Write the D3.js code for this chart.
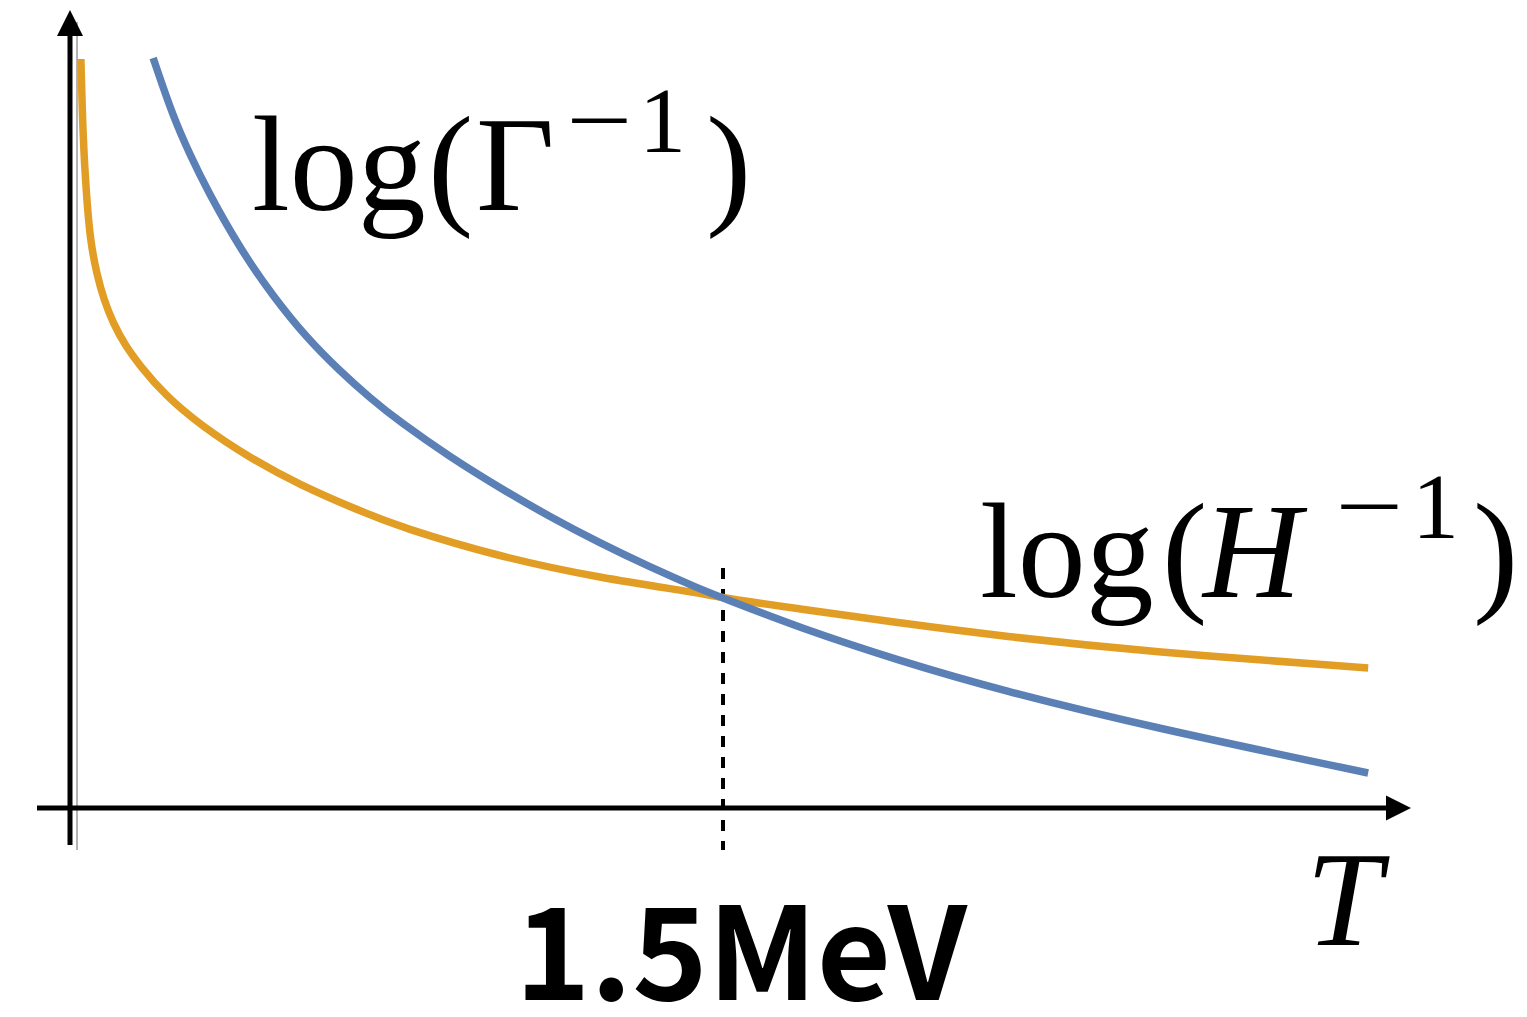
<!DOCTYPE html>
<html>
<head>
<meta charset="utf-8">
<script src="https://cdn.jsdelivr.net/npm/d3@7"></script>
<style>
  body { margin: 0; background: #fff; }
  svg { display: block; }
</style>
</head>
<body>
<svg width="1527" height="1017"></svg>
<script>
'use strict';

// temperature T in MeV
const hT = [0.025, 0.030, 0.037, 0.046, 0.062, 0.078, 0.099, 0.126, 0.161, 0.218, 0.299, 0.413, 0.528, 0.666, 0.758, 0.988, 1.217, 1.447, 1.5, 1.677, 1.907, 2.136, 2.481, 2.982];
// log(H^-1), arbitrary units
const hVal = [7.49, 6.68, 6.18, 5.68, 5.33, 5.08, 4.85, 4.63, 4.42, 4.13, 3.83, 3.50, 3.23, 2.97, 2.81, 2.51, 2.30, 2.15, 2.10, 1.99, 1.85, 1.72, 1.56, 1.40];

const gT = [0.191, 0.237, 0.276, 0.315, 0.391, 0.466, 0.544, 0.620, 0.689, 0.758, 0.873, 0.988, 1.103, 1.217, 1.332, 1.447, 1.5, 1.677, 1.907, 2.136, 2.481, 2.982];
// log(Gamma^-1)
const gVal = [7.50, 6.91, 6.53, 6.18, 5.59, 5.12, 4.70, 4.37, 4.10, 3.86, 3.51, 3.20, 2.91, 2.65, 2.41, 2.19, 2.10, 1.80, 1.47, 1.18, 0.81, 0.35];

const decouplingT = 1.5;
const decouplingLabel = "1.5MeV";

const svg = d3.select("svg");

const x = d3.scaleLinear().domain([0, 3]).range([70, 1376]);
const y = d3.scaleLinear().domain([0, 8]).range([808, 8]);

const orange = "#e29e24";
const blue = "#5b80b6";

// thin grey guide next to the y axis
svg.append("line")
    .attr("x1", x(0) + 7).attr("x2", x(0) + 7)
    .attr("y1", 22).attr("y2", y(-0.42))
    .attr("stroke", "#9a9a9a")
    .attr("stroke-width", 1.5);

// y axis
svg.append("line")
    .attr("x1", x(0)).attr("x2", x(0))
    .attr("y1", y(-0.37)).attr("y2", 34)
    .attr("stroke", "black")
    .attr("stroke-width", 5);
svg.append("path")
    .attr("d", `M${x(0)},10 L${x(0) - 13},36 L${x(0) + 13},36 Z`)
    .attr("fill", "black");

// x axis
svg.append("line")
    .attr("x1", 37).attr("x2", 1388)
    .attr("y1", y(0)).attr("y2", y(0))
    .attr("stroke", "black")
    .attr("stroke-width", 5);
svg.append("path")
    .attr("d", `M1411,${y(0)} L1386,${y(0) - 12.5} L1386,${y(0) + 12.5} Z`)
    .attr("fill", "black");

// dashed marker at the crossing
svg.append("line")
    .attr("x1", x(decouplingT)).attr("x2", x(decouplingT))
    .attr("y1", y(2.4)).attr("y2", y(-0.42))
    .attr("stroke", "black")
    .attr("stroke-width", 4)
    .attr("stroke-dasharray", "11,10");

// basis spline smooths out small reading errors in the points
const line = d3.line()
    .x(d => x(d[0]))
    .y(d => y(d[1]))
    .curve(d3.curveBasis);

svg.append("path")
    .attr("d", line(d3.zip(hT, hVal)))
    .attr("fill", "none")
    .attr("stroke", orange)
    .attr("stroke-width", 7.5);

svg.append("path")
    .attr("d", line(d3.zip(gT, gVal)))
    .attr("fill", "none")
    .attr("stroke", blue)
    .attr("stroke-width", 7.5);

// labels, set piece by piece like the typeset original
const serif = "'Liberation Serif', 'DejaVu Serif', serif";

function mathLabel(parts) {
    const t = svg.append("text")
        .attr("font-family", serif)
        .attr("font-size", 136);
    parts.forEach(p => {
        const s = t.append("tspan")
            .attr("x", p.x).attr("y", p.y)
            .text(p.s);
        if (p.size) s.attr("font-size", p.size);
        if (p.italic) s.attr("font-style", "italic");
        if (p.len) s.attr("textLength", p.len).attr("lengthAdjust", "spacingAndGlyphs");
    });
}

mathLabel([
    {s: "log", x: 252, y: 210},
    {s: "(", x: 428, y: 210},
    {s: "Γ", x: 476, y: 210},
    {s: "−", x: 566, y: 152, size: 94, len: 66},
    {s: "1", x: 639, y: 152, size: 94},
    {s: ")", x: 706, y: 210}
]);

mathLabel([
    {s: "log", x: 980, y: 597},
    {s: "(", x: 1162, y: 597},
    {s: "H", x: 1203, y: 597, italic: true},
    {s: "−", x: 1335, y: 538, size: 94, len: 68},
    {s: "1", x: 1412, y: 538, size: 94},
    {s: ")", x: 1473, y: 597}
]);

svg.append("text")
    .attr("x", 1306).attr("y", 945)
    .attr("font-family", serif)
    .attr("font-style", "italic")
    .attr("font-size", 136)
    .text("T");

svg.append("text")
    .attr("x", x(decouplingT) + 18).attr("y", 1000)
    .attr("text-anchor", "middle")
    .attr("font-family", "'Noto Sans CJK SC', 'Noto Sans', sans-serif")
    .attr("font-weight", "bold")
    .attr("font-size", 128)
    .text(decouplingLabel);
</script>
</body>
</html>
